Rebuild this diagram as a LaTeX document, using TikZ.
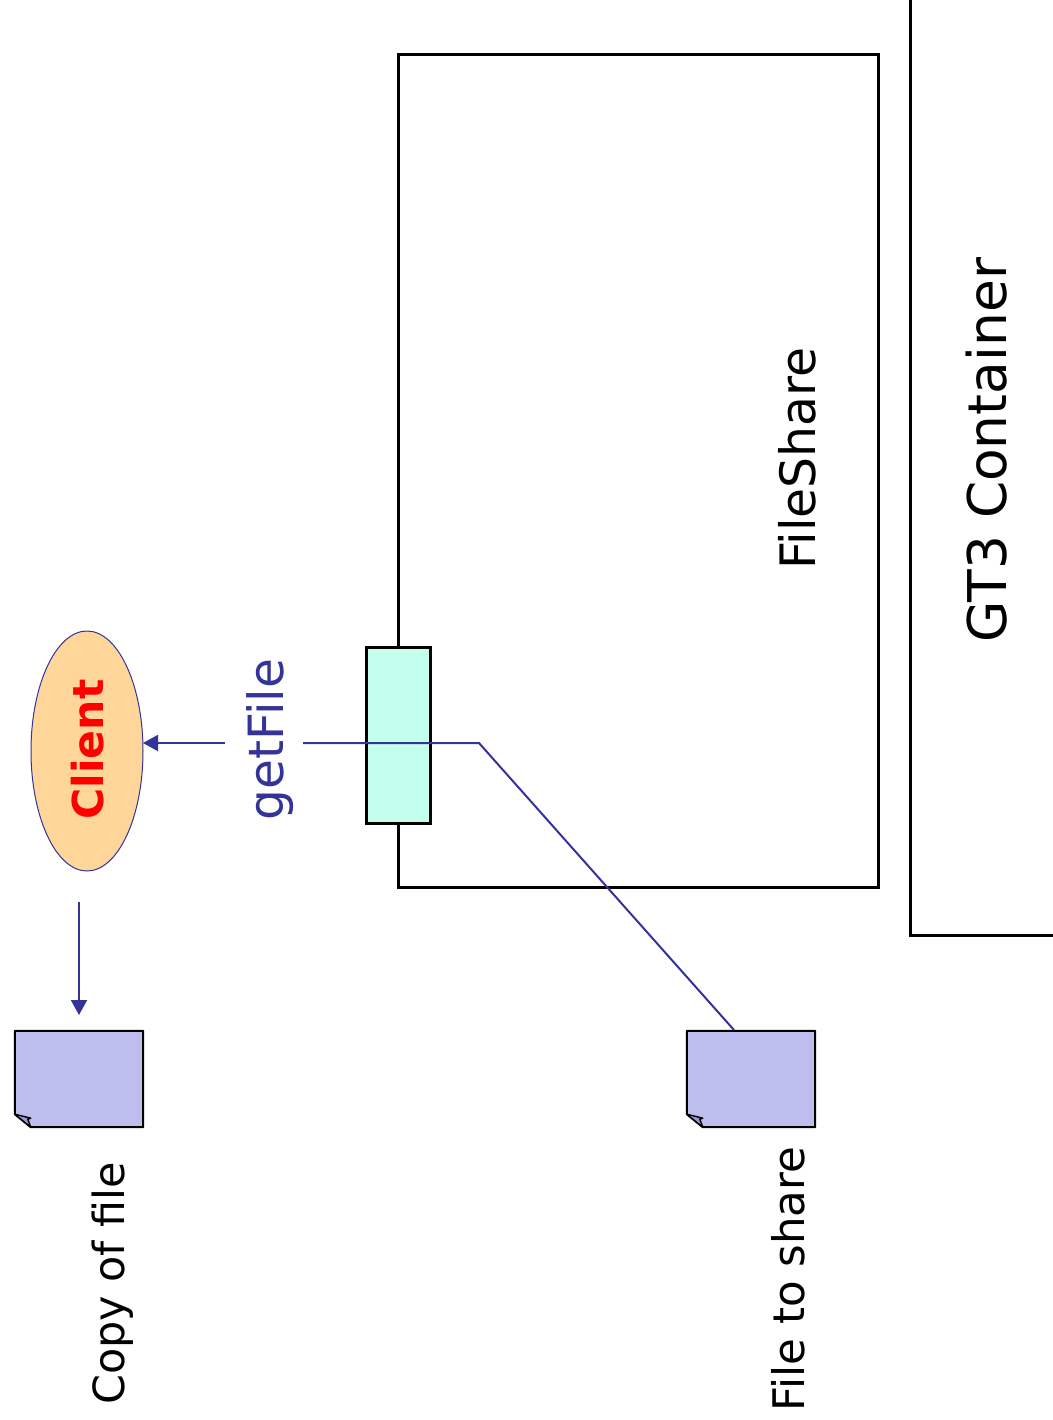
\documentclass[tikz,border=0pt]{standalone}
\usepackage{fontspec}
\setmainfont{DejaVu Sans}
\usetikzlibrary{calc,arrows.meta,shapes.geometric}
\definecolor{inkblue}{HTML}{333399}
\definecolor{filefill}{HTML}{BDBDEE}
\definecolor{foldfill}{HTML}{9999CC}
\definecolor{portfill}{HTML}{C2FFEC}
\definecolor{clientfill}{HTML}{FFD699}
\tikzset{box/.style={draw=black,line width=3pt,rectangle,inner sep=0pt},
port/.style={box,fill=portfill,minimum width=64pt,minimum height=176pt},
client/.style={draw=inkblue,line width=1pt,fill=clientfill,ellipse,inner sep=0pt,minimum width=112pt,minimum height=240pt},
filebox/.style={rectangle,inner sep=0pt,minimum width=128pt,minimum height=96pt},
label/.style={rotate=90,inner sep=0pt,text=black}}
\tikzstyle{wire}  = [line width=2pt,draw=inkblue]
\tikzstyle{arrow} = [wire,-{Triangle[length=15pt,width=16pt]}]
\newcommand{\filedoc}[1]{
	\draw[line width=2pt,line join=round,fill=filefill] (#1.north west) -- (#1.north east) -- (#1.south east) -- ($(#1.south west)+(16pt,0pt)$) -- ($(#1.south west)+(0pt,13pt)$) -- cycle;
	\draw[line width=1.4pt,line join=round,fill=foldfill] ($(#1.south west)+(0pt,13pt)$) -- ($(#1.south west)+(16pt,9pt)$) -- ($(#1.south west)+(13pt,8pt)$) -- ($(#1.south west)+(16pt,0pt)$) -- cycle;
}
\begin{document}
\begin{tikzpicture}[x=1pt,y=-1pt]
	\useasboundingbox (0,0) rectangle (1052,1420);

	% container and service
	\draw[line width=3pt] (910.5,-5) -- (910.5,935) -- (1057,935);
	\node[box,minimum width=480pt,minimum height=832pt] (share) at (638.5,471) {};
	\node[port] (port) at (398.5,735) {};

	% client and files
	\node[client] (client) at (87,751) {};
	\node[filebox] (copy) at (79,1079) {};
	\node[filebox] (original) at (751,1079) {};
	\filedoc{copy}
	\filedoc{original}

	% labels
	\node[label,font=\fontsize{42.6}{42.6}\selectfont\bfseries,text=red] (clientname) at (88,749.5) {Client};
	\node[label,font=\fontsize{48.6}{48.6}\selectfont,text=inkblue] (getfile) at (270,739.5) {getFile};
	\node[label,font=\fontsize{48.8}{48.8}\selectfont] (sharename) at (797,458.5) {FileShare};
	\node[label,font=\fontsize{53.4}{53.4}\selectfont] (container) at (987,450) {GT3 Container};
	\node[label,font=\fontsize{42.9}{42.9}\selectfont] (copyname) at (113,1283.5) {Copy of file};
	\node[label,font=\fontsize{43.5}{43.5}\selectfont] (originalname) at (788,1279) {File to share};

	% connectors
	\coordinate (bend) at (479,743);
	\coordinate (wirein) at (303,743);
	\coordinate (wireout) at (225,743);
	\coordinate (clientport) at (143,743);
	\coordinate (filetop) at (734,1030);
	\coordinate (downstart) at (79,902);
	\coordinate (downend) at (79,1015);
	\draw[wire] (filetop) -- (bend) -- (wirein);
	\draw[arrow] (wireout) -- (clientport);
	\draw[arrow] (downstart) -- (downend);
\end{tikzpicture}
\end{document}
